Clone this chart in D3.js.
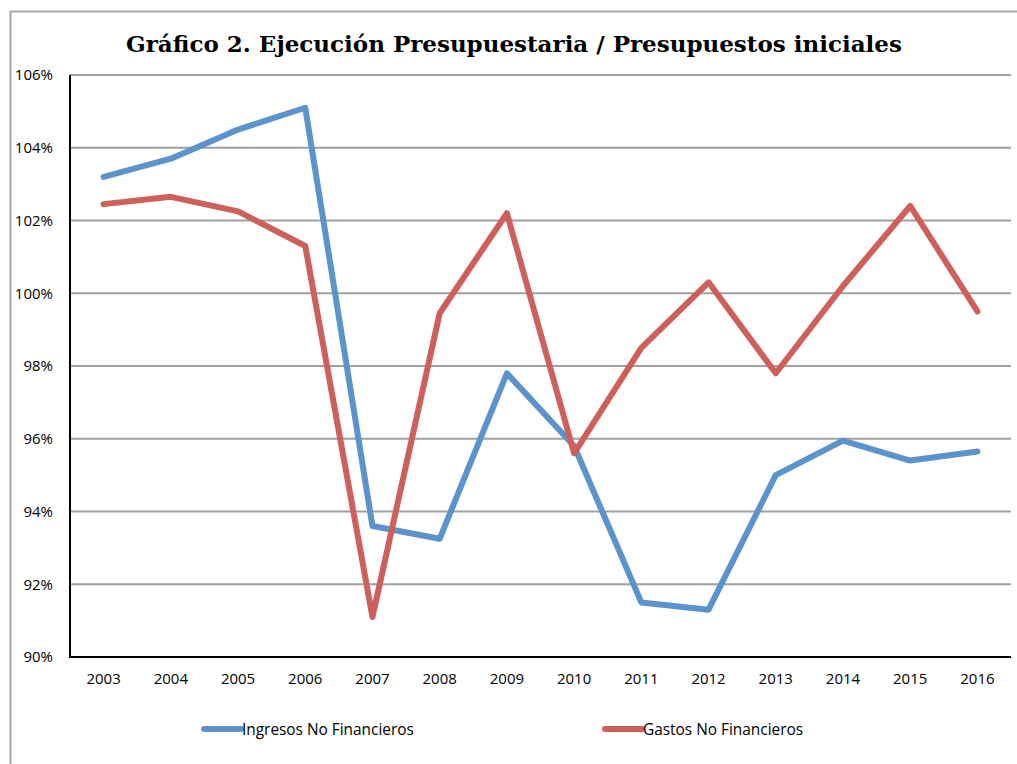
<!DOCTYPE html>
<html>
<head>
<meta charset="utf-8">
<script src="https://cdn.jsdelivr.net/npm/d3@7"></script>
<style>
  body { margin: 0; background: #fff; }
</style>
</head>
<body>
<svg id="chart" width="1017" height="764"></svg>
<script>
const years = ['2003', '2004', '2005', '2006', '2007', '2008', '2009', '2010', '2011', '2012', '2013', '2014', '2015', '2016'];
const ingresos = [103.2, 103.7, 104.5, 105.1, 93.6, 93.25, 97.8, 95.8, 91.5, 91.3, 95.0, 95.95, 95.4, 95.65];
const gastos = [102.45, 102.65, 102.25, 101.3, 91.1, 99.45, 102.2, 95.6, 98.5, 100.3, 97.8, 100.2, 102.4, 99.5];
const yTicks = [90, 92, 94, 96, 98, 100, 102, 104, 106];
const seriesNames = ['Ingresos No Financieros', 'Gastos No Financieros'];
const colors = ['#5b94cd', '#ce5f5b'];

const plotLeft = 70, plotRight = 1011, plotTop = 75, plotBottom = 657;

const svg = d3.select('#chart');

// outer frame (top and left edges only visible)
svg.append('path')
  .attr('d', 'M10.5,764 V11.5 H1017')
  .attr('fill', 'none')
  .attr('stroke', '#a6a6a6')
  .attr('stroke-width', 2);

svg.append('text')
  .text('Gráfico 2. Ejecución Presupuestaria / Presupuestos iniciales')
  .attr('x', 514)
  .attr('y', 52)
  .attr('text-anchor', 'middle')
  .attr('font-family', '"DejaVu Serif", serif')
  .attr('font-weight', 'bold')
  .attr('font-size', 23)
  .attr('fill', '#000');

const xscale = d3.scaleBand()
  .domain(years)
  .range([plotLeft, plotRight])
  .padding(0);

const yscale = d3.scaleLinear()
  .domain([90, 106])
  .range([plotBottom, plotTop]);

// gridlines
svg.append('g')
  .selectAll('line')
  .data(yTicks.slice(1))
  .enter()
  .append('line')
  .attr('x1', plotLeft)
  .attr('x2', plotRight)
  .attr('y1', (d) => yscale(d))
  .attr('y2', (d) => yscale(d))
  .attr('stroke', '#a0a0a0')
  .attr('stroke-width', 2);

const leftAxis = d3.axisLeft(yscale)
  .tickValues(yTicks)
  .tickFormat((d) => d + '%')
  .tickSize(0)
  .tickPadding(17);
const gy = svg.append('g')
  .attr('transform', `translate(${plotLeft}, 0)`)
  .call(leftAxis)
  .attr('font-family', '"Open Sans", sans-serif')
  .attr('font-size', 15);
gy.select('.domain').remove();

const bottomAxis = d3.axisBottom(xscale)
  .tickSize(0)
  .tickPadding(16);
const gx = svg.append('g')
  .attr('transform', `translate(0, ${plotBottom})`)
  .call(bottomAxis)
  .attr('font-family', '"Open Sans", sans-serif')
  .attr('font-size', 15);
gx.select('.domain').remove();

// axis lines
svg.append('path')
  .attr('d', `M${plotLeft},${plotTop} V${plotBottom} H${plotRight}`)
  .attr('fill', 'none')
  .attr('stroke', '#000')
  .attr('stroke-width', 2);

const line = d3.line()
  .x((d, i) => xscale(years[i]) + xscale.bandwidth() / 2)
  .y((d) => yscale(d));

[ingresos, gastos].forEach((values, i) => {
  svg.append('path')
    .datum(values)
    .attr('d', line)
    .attr('fill', 'none')
    .attr('stroke', colors[i])
    .attr('stroke-width', 6)
    .attr('stroke-linejoin', 'round')
    .attr('stroke-linecap', 'round');
});

// legend
const legendX = [202, 603];
const legend = svg.append('g');
seriesNames.forEach((name, i) => {
  legend.append('line')
    .attr('x1', legendX[i] + 2)
    .attr('x2', legendX[i] + 39)
    .attr('y1', 729)
    .attr('y2', 729)
    .attr('stroke', colors[i])
    .attr('stroke-width', 6)
    .attr('stroke-linecap', 'round');
  legend.append('text')
    .text(name)
    .attr('x', legendX[i] + 40)
    .attr('y', 735)
    .attr('font-family', '"Open Sans", sans-serif')
    .attr('font-size', 15.4)
    .attr('fill', '#000');
});
</script>
</body>
</html>
